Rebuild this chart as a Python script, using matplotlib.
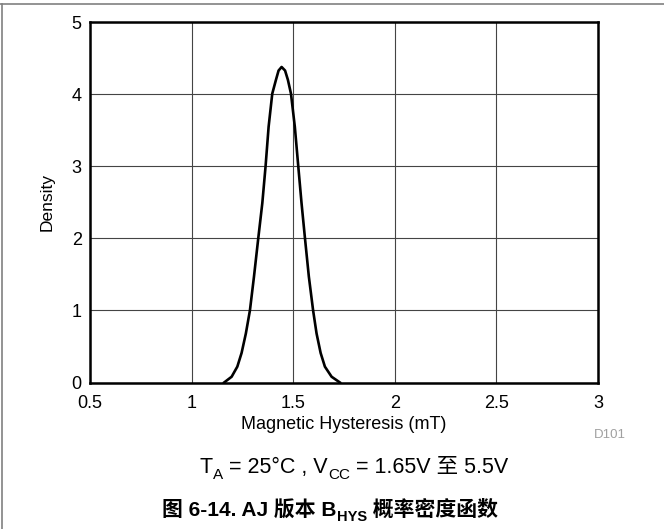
import matplotlib
matplotlib.use("Agg")
import matplotlib.pyplot as plt
from matplotlib.lines import Line2D

# density curve
hys = [1.160, 1.197, 1.225, 1.246, 1.267, 1.287, 1.307, 1.328, 1.348, 1.364,
       1.379, 1.397, 1.415, 1.428, 1.443, 1.460, 1.474, 1.489, 1.508, 1.525,
       1.541, 1.558, 1.577, 1.598, 1.615, 1.635, 1.656, 1.689, 1.730]
density = [0.0, 0.08, 0.22, 0.41, 0.68, 1.0, 1.47, 2.0, 2.49, 3.0,
           3.55, 4.01, 4.2, 4.33, 4.38, 4.33, 4.2, 4.01, 3.55, 3.0,
           2.49, 2.0, 1.47, 1.0, 0.68, 0.41, 0.22, 0.08, 0.0]

xticks = [0.5, 1, 1.5, 2, 2.5, 3]
xtick_labels = ["0.5", "1", "1.5", "2", "2.5", "3"]
yticks = [0, 1, 2, 3, 4, 5]
ytick_labels = ["0", "1", "2", "3", "4", "5"]

W, H = 664, 529
fam = ["Liberation Sans", "Noto Sans CJK SC", "DejaVu Sans"]
plt.rcParams["font.family"] = fam

fig = plt.figure(figsize=(W / 100, H / 100), dpi=100)
ax = fig.add_axes([90 / W, (H - 382.5) / H, 508 / W, 360.2 / H])

ax.plot(hys, density, color="black", lw=1.9, solid_joinstyle="round", zorder=3)

ax.set_xlim(0.5, 3)
ax.set_ylim(0, 5)
ax.set_xticks(xticks)
ax.set_xticklabels(xtick_labels)
ax.set_yticks(yticks)
ax.set_yticklabels(ytick_labels)
ax.tick_params(axis="both", length=0, labelsize=13, colors="black")
ax.tick_params(axis="x", pad=9)
ax.tick_params(axis="y", pad=6)
ax.grid(True, color="#444444", lw=0.8)
ax.set_axisbelow(True)
for sp in ax.spines.values():
    sp.set_linewidth(1.8)
    sp.set_color("black")

ax.set_xlabel("Magnetic Hysteresis (mT)", fontsize=13, labelpad=3)
ax.set_ylabel("Density", fontsize=12.5, labelpad=12)

fig.text(610 / W, (H - 435.5) / H, "D101", fontsize=9.5, color="#a0a0a0",
         ha="center", va="center")


def text_line(x_px, base_px, pieces):
    # pieces: (text, size, weight, dy in points)
    base = None
    prev = None
    for s, size, weight, dy in pieces:
        if base is None:
            t = ax.annotate(s, xy=(x_px, H - base_px), xycoords="figure pixels",
                            ha="left", va="baseline", fontsize=size,
                            fontweight=weight, annotation_clip=False)
            base = t
        else:
            t = ax.annotate(s, xy=(1, 0), xycoords=(prev, base),
                            xytext=(0, dy), textcoords="offset points",
                            ha="left", va="bottom", fontsize=size,
                            fontweight=weight, annotation_clip=False)
        prev = t


text_line(200, 473, [("T", 15.5, "normal", 0),
                     ("A", 11, "normal", -3),
                     (" = 25°C , V", 15.5, "normal", 0),
                     ("CC", 11, "normal", -3),
                     (" = 1.65V 至 5.5V", 15.5, "normal", 0)])
text_line(162, 516, [("图 6-14. AJ 版本 B", 15, "bold", 0),
                     ("HYS", 10.5, "bold", -3),
                     (" 概率密度函数", 15, "bold", 0)])

# page frame: top and left edges
fig.add_artist(Line2D([0, 1], [1 - 3.5 / H, 1 - 3.5 / H], color="#808080", lw=1.2))
fig.add_artist(Line2D([1.5 / W, 1.5 / W], [0, 1 - 3.5 / H], color="#808080", lw=1.2))

fig.savefig("out.png", dpi=100)
